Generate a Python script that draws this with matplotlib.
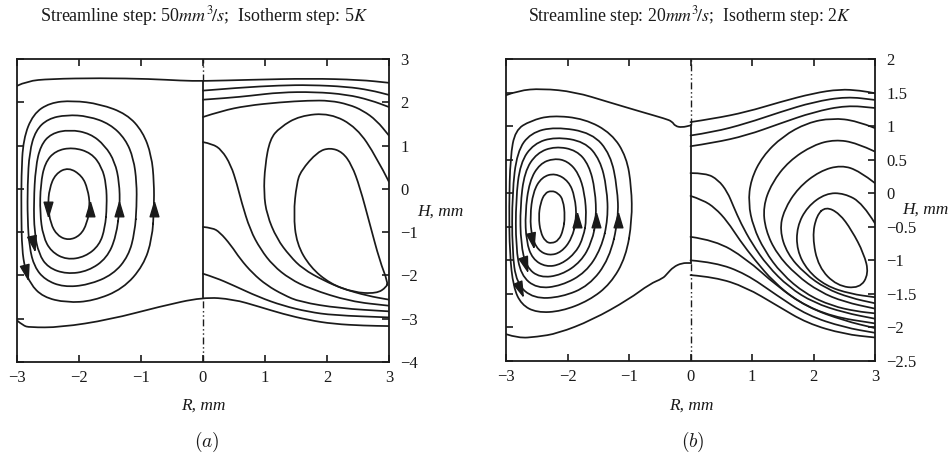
import matplotlib
matplotlib.use("Agg")
import matplotlib.pyplot as plt
from matplotlib.path import Path
from matplotlib.patches import PathPatch
from matplotlib.markers import MarkerStyle
from matplotlib.transforms import Affine2D

INK = "#1a1a1a"
SERIF = ["Liberation Serif", "DejaVu Serif"]

# ------------------------------------------------------------------
# panel (a): streamlines (R < 0) and isotherms (R > 0), (R, H) in mm
# ------------------------------------------------------------------
a_top = [(-3.0, 2.38), (-2.84, 2.49), (-2.47, 2.54), (-1.66, 2.56), (-0.85, 2.54),
         (-0.35, 2.50), (0.0, 2.49), (0.76, 2.52), (1.73, 2.55), (2.53, 2.52), (3.0, 2.45)]
a_bottom = [(-3.0, -3.04), (-2.9, -3.16), (-2.8, -3.2), (-2.3, -3.2), (-1.5, -3.02),
            (-0.7, -2.72), (0.0, -2.5), (0.49, -2.55), (0.9, -2.72), (1.29, -2.89),
            (1.7, -3.03), (2.1, -3.12), (2.6, -3.16), (3.0, -3.17)]

a_stream1 = [(-1.82, -0.39), (-1.86, 0.0), (-1.95, 0.3), (-2.17, 0.5), (-2.38, 0.35),
             (-2.48, 0.0), (-2.50, -0.39), (-2.46, -0.8), (-2.35, -1.08), (-2.17, -1.19),
             (-1.98, -1.08), (-1.87, -0.8)]
a_stream2 = [(-1.55, -0.4), (-1.56, 0.1), (-1.63, 0.5), (-1.8, 0.83), (-2.1, 0.96),
             (-2.38, 0.88), (-2.55, 0.6), (-2.62, 0.1), (-2.63, -0.55), (-2.58, -1.1),
             (-2.45, -1.45), (-2.2, -1.64), (-1.9, -1.57), (-1.67, -1.3), (-1.58, -0.9)]
a_stream3 = [(-1.34, -0.4), (-1.35, 0.15), (-1.42, 0.62), (-1.58, 1.0), (-1.82, 1.28),
             (-2.15, 1.37), (-2.45, 1.28), (-2.62, 1.0), (-2.7, 0.5), (-2.73, -0.3),
             (-2.72, -1.0), (-2.65, -1.5), (-2.5, -1.82), (-2.2, -1.97), (-1.85, -1.9),
             (-1.55, -1.6), (-1.4, -1.1)]
a_stream4 = [(-1.07, -0.4), (-1.07, 0.15), (-1.12, 0.7), (-1.25, 1.15), (-1.5, 1.5),
             (-1.85, 1.68), (-2.2, 1.71), (-2.5, 1.62), (-2.7, 1.35), (-2.8, 0.85),
             (-2.83, 0.1), (-2.83, -0.7), (-2.8, -1.35), (-2.72, -1.8), (-2.55, -2.1),
             (-2.25, -2.27), (-1.85, -2.22), (-1.45, -1.98), (-1.2, -1.55), (-1.1, -1.0)]
a_stream5 = [(-0.79, -0.45), (-0.79, 0.16), (-0.83, 0.77), (-0.97, 1.32), (-1.23, 1.73),
             (-1.66, 1.96), (-2.1, 2.04), (-2.47, 1.99), (-2.74, 1.73), (-2.9, 1.15),
             (-2.93, 0.3), (-2.93, -0.6), (-2.92, -1.39), (-2.87, -1.85), (-2.79, -2.19),
             (-2.58, -2.5), (-2.2, -2.63), (-1.77, -2.59), (-1.29, -2.31), (-0.96, -1.77),
             (-0.82, -1.15)]
a_streams = [a_stream1, a_stream2, a_stream3, a_stream4, a_stream5]

a_iso2 = [(0.0, 2.27), (0.6, 2.34), (1.24, 2.39), (1.73, 2.40), (2.32, 2.36), (2.7, 2.28), (3.0, 2.17)]
a_iso3 = [(0.0, 2.06), (0.4, 2.1), (0.76, 2.15), (1.24, 2.23), (1.8, 2.24), (2.32, 2.18),
          (2.7, 2.05), (3.0, 1.89)]
a_iso4 = [(0.0, 1.66), (0.3, 1.8), (0.7, 1.92), (1.24, 2.0), (1.7, 2.04), (2.05, 2.04),
          (2.35, 1.95), (2.58, 1.81), (2.8, 1.58), (3.0, 1.23)]
a_iso5 = [(3.0, 0.16), (2.8, 0.73), (2.48, 1.42), (2.05, 1.75), (1.56, 1.69), (1.24, 1.42),
          (1.08, 1.15), (1.0, 0.54), (0.98, -0.1), (1.03, -0.6), (1.19, -1.15), (1.4, -1.55),
          (1.61, -1.85), (1.95, -2.12), (2.26, -2.31), (2.65, -2.47), (3.0, -2.56)]
a_iso6 = [(0.0, 1.08), (0.15, 1.04), (0.3, 0.9), (0.45, 0.55), (0.55, 0.1), (0.62, -0.3),
          (0.76, -0.95), (0.93, -1.4), (1.13, -1.77), (1.4, -2.08), (1.73, -2.31),
          (2.37, -2.6), (3.0, -2.7)]
a_iso7 = [(0.0, -0.88), (0.15, -0.9), (0.27, -1.0), (0.45, -1.3), (0.6, -1.62), (0.8, -1.95),
          (1.03, -2.23), (1.3, -2.45), (1.56, -2.61), (2.2, -2.76), (3.0, -2.83)]
a_iso8 = [(0.0, -1.96), (0.2, -2.05), (0.49, -2.23), (0.9, -2.5), (1.29, -2.7), (1.7, -2.84),
          (2.1, -2.92), (3.0, -2.97)]
a_isos = [a_iso2, a_iso3, a_iso4, a_iso5, a_iso6, a_iso7, a_iso8]
a_iso_core = [(2.98, -2.15), (2.85, -1.66), (2.69, -0.81), (2.53, 0.04), (2.4, 0.55),
              (2.25, 0.85), (2.05, 0.95), (1.85, 0.86), (1.58, 0.42), (1.51, 0.12),
              (1.46, -0.58), (1.51, -1.27), (1.73, -1.81), (2.05, -2.19), (2.42, -2.39),
              (2.8, -2.42), (2.96, -2.27)]

a_arrows_up = [(-1.83, -0.46), (-1.35, -0.46), (-0.79, -0.46)]
a_arrows_down = [(-2.5, -0.46, 0), (-2.74, -1.25, 12), (-2.85, -1.92, 14)]
a_wall = (2.49, -2.5)

# ------------------------------------------------------------------
# panel (b)
# ------------------------------------------------------------------
b_top = [(-3.0, 1.46), (-2.8, 1.53), (-2.42, 1.56), (-1.88, 1.51), (-1.34, 1.36),
         (-0.79, 1.21), (-0.41, 1.11), (-0.3, 1.07), (-0.25, 1.0), (-0.14, 0.98), (0.0, 1.01)]
b_bottom = [(-3.0, -2.1), (-2.8, -2.16), (-2.5, -2.14), (-2.16, -2.09), (-1.6, -1.89),
            (-1.0, -1.58), (-0.66, -1.35), (-0.45, -1.27), (-0.38, -1.2), (-0.28, -1.1),
            (-0.14, -1.04), (0.0, -1.04)]

b_stream1 = [(-2.04, -0.35), (-2.07, -0.1), (-2.15, 0.0), (-2.26, 0.04), (-2.37, 0.0),
             (-2.44, -0.15), (-2.47, -0.35), (-2.44, -0.58), (-2.36, -0.72), (-2.26, -0.75),
             (-2.14, -0.7), (-2.07, -0.55)]
b_stream2 = [(-1.85, -0.38), (-1.88, -0.05), (-1.98, 0.18), (-2.2, 0.3), (-2.42, 0.24),
             (-2.56, 0.02), (-2.61, -0.35), (-2.58, -0.65), (-2.48, -0.85), (-2.3, -0.93),
             (-2.1, -0.88), (-1.93, -0.68)]
b_stream3 = [(-1.69, -0.38), (-1.72, 0.0), (-1.82, 0.3), (-2.0, 0.48), (-2.22, 0.52),
             (-2.45, 0.44), (-2.62, 0.18), (-2.69, -0.3), (-2.67, -0.72), (-2.57, -0.98),
             (-2.35, -1.1), (-2.1, -1.06), (-1.86, -0.88), (-1.74, -0.65)]
b_stream4 = [(-1.53, -0.38), (-1.55, 0.05), (-1.65, 0.42), (-1.85, 0.64), (-2.2, 0.7),
             (-2.5, 0.6), (-2.7, 0.32), (-2.77, -0.2), (-2.76, -0.75), (-2.67, -1.1),
             (-2.45, -1.26), (-2.1, -1.22), (-1.78, -1.02), (-1.6, -0.72)]
b_stream5 = [(-1.34, -0.38), (-1.36, 0.08), (-1.47, 0.5), (-1.72, 0.77), (-2.2, 0.84),
             (-2.55, 0.74), (-2.77, 0.45), (-2.84, -0.1), (-2.84, -0.8), (-2.76, -1.22),
             (-2.5, -1.42), (-2.1, -1.38), (-1.7, -1.18), (-1.45, -0.82)]
b_stream6 = [(-1.17, -0.38), (-1.19, 0.08), (-1.3, 0.58), (-1.6, 0.9), (-2.2, 0.99),
             (-2.6, 0.9), (-2.82, 0.62), (-2.9, 0.0), (-2.9, -0.85), (-2.83, -1.35),
             (-2.55, -1.57), (-2.1, -1.55), (-1.65, -1.38), (-1.32, -0.98)]
b_stream7 = [(-0.95, -0.4), (-0.96, 0.09), (-1.04, 0.54), (-1.28, 0.89), (-1.72, 1.11),
             (-2.26, 1.16), (-2.6, 1.08), (-2.85, 0.94), (-2.93, 0.54), (-2.95, -0.2),
             (-2.94, -0.9), (-2.88, -1.4), (-2.75, -1.66), (-2.5, -1.78), (-2.1, -1.76),
             (-1.65, -1.6), (-1.3, -1.35), (-1.05, -0.95)]
b_streams = [b_stream1, b_stream2, b_stream3, b_stream4, b_stream5, b_stream6, b_stream7]

b_iso1 = [(0.0, 1.06), (0.37, 1.11), (0.91, 1.21), (1.46, 1.36), (2.0, 1.49), (2.43, 1.55),
          (2.76, 1.53), (3.0, 1.49)]
b_iso2 = [(0.0, 0.86), (0.37, 0.91), (0.91, 1.04), (1.46, 1.21), (2.0, 1.36), (2.54, 1.44), (3.0, 1.39)]
b_iso3 = [(0.0, 0.7), (0.37, 0.75), (0.91, 0.86), (1.46, 1.04), (2.0, 1.21), (2.54, 1.31), (3.0, 1.27)]
b_iso4 = [(3.0, 0.97), (2.7, 1.08), (2.3, 1.12), (1.9, 1.05), (1.5, 0.85), (1.17, 0.55),
          (0.98, 0.2), (0.94, -0.15), (1.02, -0.5), (1.2, -0.85), (1.48, -1.2), (1.87, -1.5),
          (2.3, -1.68), (2.7, -1.76), (3.0, -1.79)]
b_iso5 = [(3.0, 0.62), (2.7, 0.75), (2.35, 0.8), (2.0, 0.72), (1.6, 0.48), (1.32, 0.15),
          (1.18, -0.2), (1.22, -0.55), (1.4, -0.9), (1.72, -1.22), (2.1, -1.47), (2.5, -1.62),
          (3.0, -1.72)]
b_iso6 = [(3.0, 0.15), (2.75, 0.33), (2.45, 0.42), (2.1, 0.33), (1.75, 0.08), (1.52, -0.25),
          (1.45, -0.55), (1.57, -0.9), (1.86, -1.2), (2.2, -1.42), (2.6, -1.56), (3.0, -1.64)]
b_iso7 = [(3.0, -0.45), (2.8, -0.15), (2.5, 0.0), (2.2, 0.0), (1.9, -0.2), (1.73, -0.5),
          (1.73, -0.85), (1.9, -1.15), (2.2, -1.38), (2.6, -1.5), (3.0, -1.55)]
b_iso8 = [(0.0, 0.3), (0.25, 0.3), (0.45, 0.2), (0.6, 0.02), (0.7, -0.2), (0.82, -0.45),
          (1.0, -0.75), (1.25, -1.08), (1.6, -1.4), (2.0, -1.63), (2.5, -1.78), (3.0, -1.87)]
b_iso9 = [(0.0, -0.04), (0.2, -0.1), (0.4, -0.22), (0.6, -0.42), (0.8, -0.7), (1.05, -1.0),
          (1.35, -1.32), (1.75, -1.62), (2.3, -1.84), (3.0, -1.94)]
b_iso10 = [(0.0, -0.65), (0.4, -0.7), (0.9, -0.97), (1.4, -1.38), (1.9, -1.7), (2.5, -1.9),
           (3.0, -2.01)]
b_iso11 = [(0.0, -1.0), (0.4, -1.03), (0.9, -1.2), (1.4, -1.52), (1.9, -1.82), (2.5, -2.0),
           (3.0, -2.08)]
b_iso12 = [(0.0, -1.22), (0.4, -1.25), (0.9, -1.4), (1.4, -1.67), (1.9, -1.94), (2.5, -2.1),
           (3.0, -2.15)]
b_isos = [b_iso1, b_iso2, b_iso3, b_iso4, b_iso5, b_iso6, b_iso7, b_iso8, b_iso9, b_iso10,
          b_iso11, b_iso12]
b_iso_core = [(2.2, -0.2), (2.42, -0.3), (2.62, -0.55), (2.82, -0.9), (2.9, -1.2),
              (2.75, -1.42), (2.38, -1.38), (2.08, -1.1), (1.98, -0.65), (2.05, -0.33)]

b_arrows_up = [(-1.85, -0.4), (-1.53, -0.4), (-1.18, -0.4)]
b_arrows_down = [(-2.58, -0.7, 12), (-2.69, -1.06, 18), (-2.77, -1.42, 22)]
b_wall = (1.01, -1.04)

x_ticks = [-3, -2, -1, 0, 1, 2, 3]
x_labels = ["\u22123", "\u22122", "\u22121", "0", "1", "2", "3"]
a_yticks = [3, 2, 1, 0, -1, -2, -3, -4]
a_ylabels = ["3", "2", "1", "0", "\u22121", "\u22122", "\u22123", "\u22124"]
b_yticks = [2, 1.5, 1, 0.5, 0, -0.5, -1, -1.5, -2, -2.5]
b_ylabels = ["2", "1.5", "1", "0.5", "0", "\u22120.5", "\u22121", "\u22121.5", "\u22122", "\u22122.5"]


def smooth(ax, pts, closed=False, lw=1.25):
    # quadratic bezier through midpoints of the read points
    mids = [((pts[i][0] + pts[i + 1][0]) / 2, (pts[i][1] + pts[i + 1][1]) / 2)
            for i in range(len(pts) - 1)]
    if closed:
        last = ((pts[-1][0] + pts[0][0]) / 2, (pts[-1][1] + pts[0][1]) / 2)
        verts = [last]
        codes = [Path.MOVETO]
        ends = mids + [last]
        for i in range(len(pts)):
            verts += [pts[i], ends[i]]
            codes += [Path.CURVE3, Path.CURVE3]
    else:
        verts = [pts[0]]
        codes = [Path.MOVETO]
        for i in range(1, len(pts) - 1):
            verts += [pts[i], mids[i]]
            codes += [Path.CURVE3, Path.CURVE3]
        verts.append(pts[-1])
        codes.append(Path.LINETO)
    ax.add_patch(PathPatch(Path(verts, codes), fill=False, edgecolor=INK, lw=lw,
                           capstyle="round", joinstyle="round", zorder=3))


def arrow_marker(angle):
    verts = [(0, 0.5), (-0.3, -0.5), (0.3, -0.5), (0, 0.5)]
    return MarkerStyle(verts, transform=Affine2D().rotate_deg(angle))


def panel(ax, top, bottom, streams, isos, core, ups, downs, wall, ylim, yticks, ylabels):
    ax.set_xlim(-3, 3)
    ax.set_ylim(*ylim)
    smooth(ax, top)
    smooth(ax, bottom)
    for s in streams:
        smooth(ax, s, closed=True)
    for c in isos:
        smooth(ax, c)
    smooth(ax, core, closed=True)
    for x, y in ups:
        ax.plot([x], [y], marker=arrow_marker(0), ms=10.5, color=INK, mec=INK, zorder=4)
    for x, y, ang in downs:
        ax.plot([x], [y], marker=arrow_marker(180 + ang), ms=10.5, color=INK, mec=INK, zorder=4)
    # axis of symmetry: solid wall part and dash-dot outside
    ax.plot([0, 0], [wall[1], wall[0]], color=INK, lw=1.3, zorder=3)
    ax.plot([0, 0], [wall[0], ylim[1]], color=INK, lw=1.0, ls=(0, (5, 2, 1, 2, 1, 2)), zorder=3)
    ax.plot([0, 0], [ylim[0], wall[1]], color=INK, lw=1.0, ls=(0, (5, 2, 1, 2, 1, 2)), zorder=3)

    ax.set_xticks(x_ticks)
    ax.set_xticklabels(x_labels)
    ax.set_yticks(yticks)
    ax.set_yticklabels(ylabels)
    ax.tick_params(direction="in", length=5, width=1.2, top=True, right=True, left=True,
                   labelleft=False, labelright=True, colors=INK, labelsize=12)
    ax.tick_params(axis="y", pad=8)
    ax.tick_params(axis="x", pad=6)
    for lab in ax.get_xticklabels() + ax.get_yticklabels():
        lab.set_family(SERIF)
    for sp in ax.spines.values():
        sp.set_linewidth(1.3)
        sp.set_color(INK)


fig = plt.figure(figsize=(9.5, 4.54), dpi=100)
ax_a = fig.add_axes([17 / 950, 92 / 454, 372 / 950, 303 / 454])
ax_b = fig.add_axes([506 / 950, 93 / 454, 369 / 950, 302 / 454])

panel(ax_a, a_top, a_bottom, a_streams, a_isos, a_iso_core, a_arrows_up, a_arrows_down,
      a_wall, (-4, 3), a_yticks, a_ylabels)
panel(ax_b, b_top, b_bottom, b_streams, b_isos, b_iso_core, b_arrows_up, b_arrows_down,
      b_wall, (-2.5, 2), b_yticks, b_ylabels)

fig.text(204 / 950, 1 - 16 / 454, r"Streamline step: 50$mm^3\!/s$;  Isotherm step: 5$K$",
         ha="center", va="center", fontsize=13.0, family=SERIF, math_fontfamily="stix", color=INK)
fig.text(690 / 950, 1 - 16 / 454, r"Streamline step: 20$mm^3\!/s$;  Isotherm step: 2$K$",
         ha="center", va="center", fontsize=12.8, family=SERIF, math_fontfamily="stix", color=INK)

for xc in (203, 691):
    fig.text(xc / 950, 1 - 406 / 454, "R, mm", ha="center", va="center", fontsize=12.5,
             family=SERIF, style="italic", color=INK)
ax_a.text(1.077, (-0.53 + 4) / 7, "H, mm", transform=ax_a.transAxes, ha="left", va="center",
          fontsize=12.5, family=SERIF, style="italic", color=INK)
ax_b.text(1.075, (-0.25 + 2.5) / 4.5, "H, mm", transform=ax_b.transAxes, ha="left", va="center",
          fontsize=12.5, family=SERIF, style="italic", color=INK)

fig.text(207 / 950, 1 - 442 / 454, r"$(a)$", ha="center", va="center", fontsize=14,
         math_fontfamily="cm", color=INK)
fig.text(693 / 950, 1 - 442 / 454, r"$(b)$", ha="center", va="center", fontsize=14,
         math_fontfamily="cm", color=INK)

fig.savefig("out.png", dpi=100, facecolor="white")
